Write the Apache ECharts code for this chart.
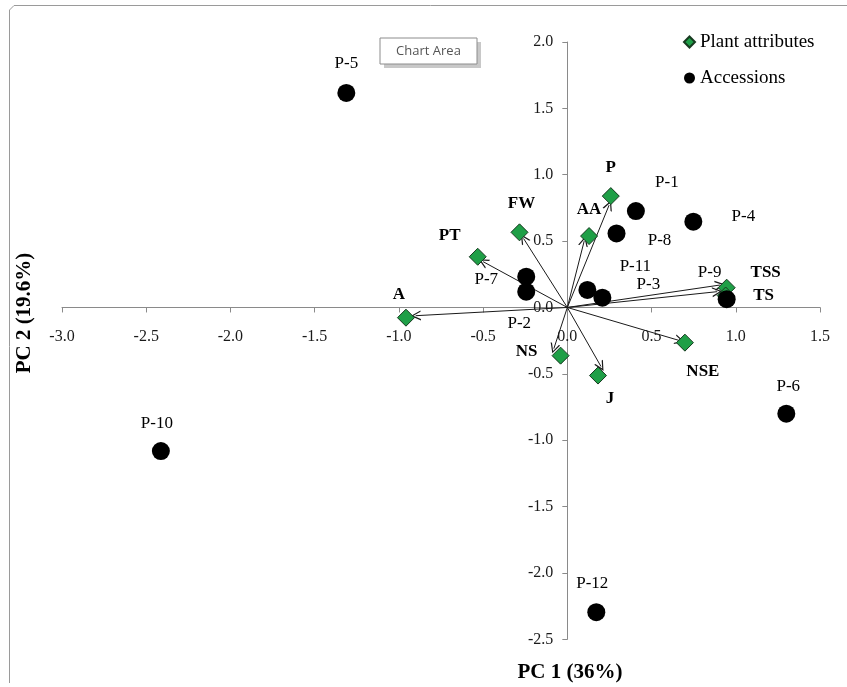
<!DOCTYPE html>
<html>
<head>
<meta charset="utf-8">
<script src="https://cdn.jsdelivr.net/npm/echarts@6/dist/echarts.min.js"></script>
<style>html,body{margin:0;padding:0;background:#fff;}#chart{width:847px;height:687px;}</style>
</head>
<body>
<div id="chart"></div>
<script>
// ---- data ----
const attrNames = ['P', 'AA', 'FW', 'PT', 'A', 'NS', 'J', 'NSE', 'TSS', 'TS'];
const attrX = [0.258, 0.129, -0.284, -0.532, -0.958, -0.040, 0.182, 0.698, 0.946, 0.940];
const attrY = [0.839, 0.538, 0.566, 0.382, -0.077, -0.363, -0.513, -0.265, 0.149, 0.090];
// arrow tips (vectors drawn from origin)
const tipX = [0.248, 0.100, -0.260, -0.500, -0.900, -0.080, 0.200, 0.668, 0.906, 0.890];
const tipY = [0.771, 0.500, 0.520, 0.345, -0.062, -0.310, -0.445, -0.250, 0.169, 0.119];

const accNames = ['P-1', 'P-2', 'P-3', 'P-4', 'P-5', 'P-6', 'P-7', 'P-8', 'P-9', 'P-10', 'P-11', 'P-12'];
const accX = [0.407, -0.244, 0.208, 0.748, -1.312, 1.300, -0.244, 0.292, 0.946, -2.413, 0.119, 0.172];
const accY = [0.726, 0.119, 0.074, 0.646, 1.616, -0.800, 0.232, 0.558, 0.062, -1.082, 0.132, -2.296];

const xTicks = { min: -3.0, max: 1.5, interval: 0.5 };
const yTicks = { min: -2.5, max: 2.0, interval: 0.5 };

// ---- label placement (style, kept separate from data) ----
const attrLabelOffset = {
  'P': [0, -28], 'AA': [0, -26], 'FW': [2, -29], 'PT': [-28, -21], 'A': [-7, -23],
  'NS': [-34, -4], 'J': [12, 23], 'NSE': [18, 29], 'TSS': [39, -15], 'TS': [38, 0]
};
const accLabelOffset = {
  'P-1': [31, -29], 'P-2': [-7, 32], 'P-3': [46, -13], 'P-4': [50, -5], 'P-5': [0, -29],
  'P-6': [2, -27], 'P-7': [-40, 3], 'P-8': [43, 7], 'P-9': [-17, -27], 'P-10': [-4, -28],
  'P-11': [48, -23], 'P-12': [-4, -29]
};

const SERIF = '"Liberation Serif", "Times New Roman", serif';
const W = 847, H = 687;
const G = { left: 62, right: 27, top: 42, bottom: 47.7 };
// axes cross at zero: shift each axis from the grid edge to the zero line
const plotW = W - G.left - G.right, plotH = H - G.top - G.bottom;
const xZeroFromLeft = (0 - xTicks.min) / (xTicks.max - xTicks.min) * plotW;
const yZeroFromBottom = (0 - yTicks.min) / (yTicks.max - yTicks.min) * plotH;

const chart = echarts.init(document.getElementById('chart'), null, { renderer: 'canvas' });

const arrowData = attrNames.map((n, i) => ({ coords: [[0, 0], [tipX[i], tipY[i]]] }));
const attrData = attrNames.map((n, i) => ({
  name: n, value: [attrX[i], attrY[i]],
  label: { offset: attrLabelOffset[n] }
}));
const accData = accNames.map((n, i) => ({
  name: n, value: [accX[i], accY[i]],
  label: { offset: accLabelOffset[n] }
}));

const axisCommon = {
  type: 'value',
  axisLine: { show: true, onZero: false, lineStyle: { color: '#8a8a8a', width: 1 } },
  axisTick: { show: true, length: 5, lineStyle: { color: '#8a8a8a' } },
  splitLine: { show: false },
  axisLabel: {
    fontFamily: SERIF, fontSize: 16, color: '#1a1a1a',
    formatter: v => v.toFixed(1)
  }
};

chart.setOption({
  animation: false,
  backgroundColor: '#fff',
  grid: { left: G.left, right: G.right, top: G.top, bottom: G.bottom, containLabel: false },
  xAxis: Object.assign({}, axisCommon, {
    position: 'bottom', offset: -yZeroFromBottom,
    min: xTicks.min, max: xTicks.max, interval: xTicks.interval,
    axisLabel: Object.assign({}, axisCommon.axisLabel, { margin: 21 })
  }),
  yAxis: Object.assign({}, axisCommon, {
    position: 'left', offset: -xZeroFromLeft,
    min: yTicks.min, max: yTicks.max, interval: yTicks.interval,
    axisLabel: Object.assign({}, axisCommon.axisLabel, { margin: 14 })
  }),
  legend: {
    orient: 'vertical', left: 678, top: 26,
    itemWidth: 11, itemHeight: 11, itemGap: 14, itemTextGap: 5,
    textStyle: { fontFamily: SERIF, fontSize: 19, color: '#000', lineHeight: 22 },
    data: [
      { name: 'Plant attributes', icon: 'diamond' },
      { name: 'Accessions', icon: 'circle' }
    ]
  },
  series: [
    {
      type: 'lines', coordinateSystem: 'cartesian2d', silent: true, z: 1,
      symbol: ['none', 'path://M5,0 L10,10 L8.6,10 L5,2.6 L1.4,10 L0,10 Z'],
      symbolSize: [9, 10],
      lineStyle: { color: '#1a1a1a', width: 1, opacity: 1 },
      data: arrowData
    },
    {
      name: 'Plant attributes', type: 'scatter', symbol: 'diamond', symbolSize: 17, z: 2,
      itemStyle: { color: '#1f9f47', borderColor: '#173a20', borderWidth: 1, opacity: 1 },
      label: {
        show: true, position: 'inside', formatter: '{b}', align: 'center', verticalAlign: 'middle',
        fontFamily: SERIF, fontSize: 17, fontWeight: 'bold', color: '#000', textBorderWidth: 0
      },
      data: attrData
    },
    {
      name: 'Accessions', type: 'scatter', symbol: 'circle', symbolSize: 18, z: 3,
      itemStyle: { color: '#000', opacity: 1 },
      label: {
        show: true, position: 'inside', formatter: '{b}', align: 'center', verticalAlign: 'middle',
        fontFamily: SERIF, fontSize: 17, color: '#000', textBorderWidth: 0
      },
      data: accData
    }
  ],
  graphic: [
    // chart area frame (left and top edges)
    { type: 'polyline', z: 0, shape: { points: [[9.5, 683], [9.5, 10], [14, 5.5], [847, 5.5]] },
      style: { stroke: '#9a9a9a', lineWidth: 1, fill: null } },
    // axis titles
    { type: 'text', x: 570, y: 673, style: { text: 'PC 1 (36%)', font: 'bold 21px ' + SERIF, fill: '#000', align: 'center', verticalAlign: 'middle' } },
    { type: 'text', x: 25, y: 313, rotation: Math.PI / 2, style: { text: 'PC 2 (19.6%)', font: 'bold 21px ' + SERIF, fill: '#000', align: 'center', verticalAlign: 'middle' } },
    // "Chart Area" tip box
    { type: 'rect', shape: { x: 384, y: 42, width: 97, height: 26 }, style: { fill: '#c8c8c8' }, z: 10 },
    { type: 'rect', shape: { x: 380, y: 38, width: 97, height: 26 }, style: { fill: '#fff', stroke: '#8c8c8c', lineWidth: 1 }, z: 11 },
    { type: 'text', x: 428.5, y: 51, z: 12, style: { text: 'Chart Area', font: '13px "Open Sans", "DejaVu Sans", sans-serif', fill: '#555', align: 'center', verticalAlign: 'middle' } }
  ]
});
</script>
</body>
</html>
